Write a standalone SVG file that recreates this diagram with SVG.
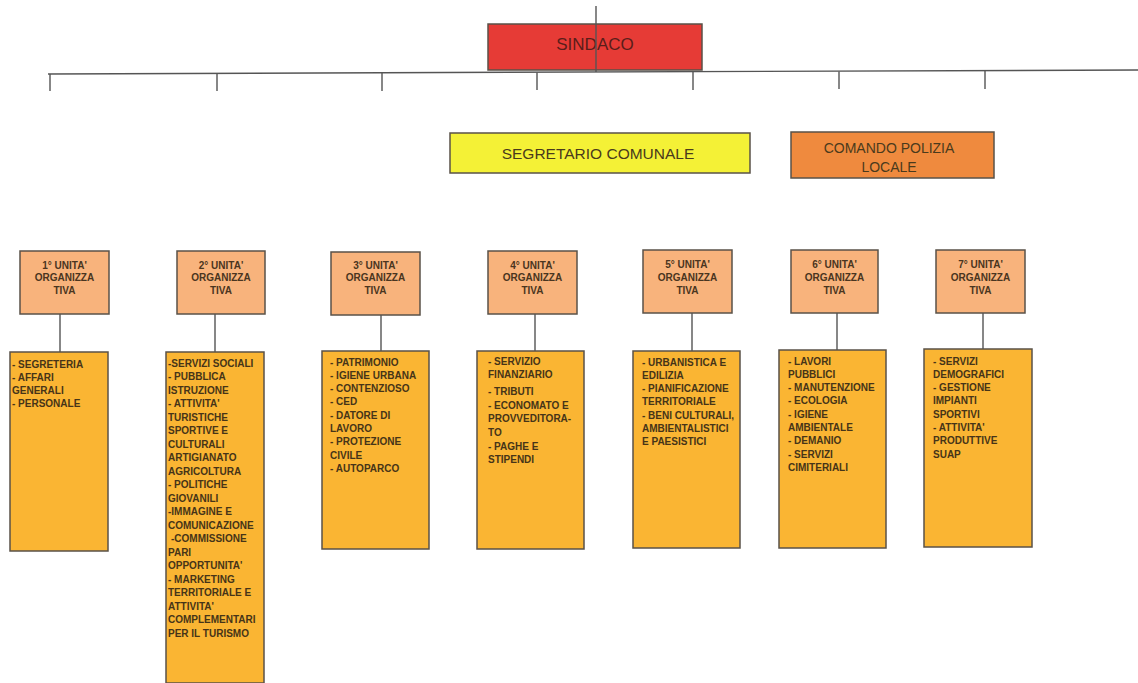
<svg xmlns="http://www.w3.org/2000/svg" width="1138" height="683" viewBox="0 0 1138 683">
<style>
.bx{stroke:#5a5248;stroke-width:1.5}
.sind{fill:#e63b36}
.segr{fill:#f4f136}
.poli{fill:#ef8a3e}
.unit{fill:#f8b37c}
.list{fill:#fab533}
.ln{stroke:#555;stroke-width:1.4;fill:none}
text{font-family:"Liberation Sans",Arial,sans-serif}
.top{font-size:15.5px;fill:#4a3a1c;text-anchor:middle}
.ut{font-size:10px;font-weight:bold;fill:#4a3520;text-anchor:middle}
.lt{font-size:10px;font-weight:bold;fill:#463418}
</style>
<rect width="1138" height="683" fill="#ffffff"/>
<g id="sindaco">
<rect class="bx sind" x="488" y="24" width="214" height="46"/>
<text class="top" x="595" y="50" style="font-size:17px;fill:#5a1e1a">SINDACO</text>
</g>
<g id="segretario">
<rect class="bx segr" x="450" y="133" width="300" height="40"/>
<text class="top" x="598" y="159">SEGRETARIO COMUNALE</text>
</g>
<g id="polizia">
<rect class="bx poli" x="791" y="132" width="203" height="46"/>
<text class="top" x="889" y="153" style="font-size:14px">COMANDO POLIZIA</text>
<text class="top" x="889" y="172" style="font-size:14px">LOCALE</text>
</g>
<g id="u1">
<rect class="bx unit" x="20" y="251" width="89" height="63"/>
<text class="ut" x="64.5" y="268.5">1° UNITA'</text>
<text class="ut" x="64.5" y="281">ORGANIZZA</text>
<text class="ut" x="64.5" y="294">TIVA</text>
</g>
<g id="u2">
<rect class="bx unit" x="177" y="251" width="88" height="63"/>
<text class="ut" x="221" y="268.5">2° UNITA'</text>
<text class="ut" x="221" y="281">ORGANIZZA</text>
<text class="ut" x="221" y="294">TIVA</text>
</g>
<g id="u3">
<rect class="bx unit" x="331" y="252" width="89" height="63"/>
<text class="ut" x="375.5" y="268.5">3° UNITA'</text>
<text class="ut" x="375.5" y="281">ORGANIZZA</text>
<text class="ut" x="375.5" y="294">TIVA</text>
</g>
<g id="u4">
<rect class="bx unit" x="488" y="251" width="89" height="63"/>
<text class="ut" x="532.5" y="268.5">4° UNITA'</text>
<text class="ut" x="532.5" y="281">ORGANIZZA</text>
<text class="ut" x="532.5" y="294">TIVA</text>
</g>
<g id="u5">
<rect class="bx unit" x="643" y="250" width="89" height="63"/>
<text class="ut" x="687.5" y="268">5° UNITA'</text>
<text class="ut" x="687.5" y="280.5">ORGANIZZA</text>
<text class="ut" x="687.5" y="293.5">TIVA</text>
</g>
<g id="u6">
<rect class="bx unit" x="791" y="250" width="87" height="63"/>
<text class="ut" x="834.5" y="268">6° UNITA'</text>
<text class="ut" x="834.5" y="280.5">ORGANIZZA</text>
<text class="ut" x="834.5" y="293.5">TIVA</text>
</g>
<g id="u7">
<rect class="bx unit" x="936" y="250" width="89" height="63"/>
<text class="ut" x="980.5" y="268">7° UNITA'</text>
<text class="ut" x="980.5" y="280.5">ORGANIZZA</text>
<text class="ut" x="980.5" y="293.5">TIVA</text>
</g>
<g id="l1">
<rect class="bx list" x="10" y="352" width="98" height="199"/>
<text class="lt" x="12" y="368">- SEGRETERIA</text>
<text class="lt" x="12" y="381">-  AFFARI</text>
<text class="lt" x="12" y="394">GENERALI</text>
<text class="lt" x="12" y="407">-  PERSONALE</text>
</g>
<g id="l2">
<rect class="bx list" x="166" y="352" width="98" height="331"/>
<text class="lt" x="168" y="366.5">-SERVIZI SOCIALI</text>
<text class="lt" x="168" y="380">- PUBBLICA</text>
<text class="lt" x="168" y="393.5">ISTRUZIONE</text>
<text class="lt" x="168" y="407">- ATTIVITA'</text>
<text class="lt" x="168" y="420.5">TURISTICHE</text>
<text class="lt" x="168" y="434">SPORTIVE E</text>
<text class="lt" x="168" y="447.5">CULTURALI</text>
<text class="lt" x="168" y="461">ARTIGIANATO</text>
<text class="lt" x="168" y="474.5">AGRICOLTURA</text>
<text class="lt" x="168" y="488">- POLITICHE</text>
<text class="lt" x="168" y="501.5">GIOVANILI</text>
<text class="lt" x="168" y="515">-IMMAGINE E</text>
<text class="lt" x="168" y="528.5">COMUNICAZIONE</text>
<text class="lt" x="171" y="542">-COMMISSIONE</text>
<text class="lt" x="168" y="555.5">PARI</text>
<text class="lt" x="168" y="569">OPPORTUNITA'</text>
<text class="lt" x="168" y="582.5">- MARKETING</text>
<text class="lt" x="168" y="596">TERRITORIALE E</text>
<text class="lt" x="168" y="609.5">ATTIVITA'</text>
<text class="lt" x="168" y="623">COMPLEMENTARI</text>
<text class="lt" x="168" y="636.5">PER IL TURISMO</text>
</g>
<g id="l3">
<rect class="bx list" x="322" y="351" width="107" height="198"/>
<text class="lt" x="330" y="365.5">- PATRIMONIO</text>
<text class="lt" x="330" y="378.5">- IGIENE URBANA</text>
<text class="lt" x="330" y="391.5">- CONTENZIOSO</text>
<text class="lt" x="330" y="405">- CED</text>
<text class="lt" x="330" y="418.5">- DATORE DI</text>
<text class="lt" x="330" y="431.5">LAVORO</text>
<text class="lt" x="330" y="445">- PROTEZIONE</text>
<text class="lt" x="330" y="458.5">CIVILE</text>
<text class="lt" x="330" y="471.5">- AUTOPARCO</text>
</g>
<g id="l4">
<rect class="bx list" x="477" y="351" width="107" height="198"/>
<text class="lt" x="488" y="365">- SERVIZIO</text>
<text class="lt" x="488" y="378">FINANZIARIO</text>
<text class="lt" x="488" y="395">-  TRIBUTI</text>
<text class="lt" x="488" y="409">- ECONOMATO E</text>
<text class="lt" x="488" y="422">PROVVEDITORA-</text>
<text class="lt" x="488" y="435.5">TO</text>
<text class="lt" x="488" y="450">- PAGHE E</text>
<text class="lt" x="488" y="463">STIPENDI</text>
</g>
<g id="l5">
<rect class="bx list" x="633" y="351" width="107" height="197"/>
<text class="lt" x="642" y="365.5">- URBANISTICA E</text>
<text class="lt" x="642" y="378.5">EDILIZIA</text>
<text class="lt" x="642" y="391.5">- PIANIFICAZIONE</text>
<text class="lt" x="642" y="405">TERRITORIALE</text>
<text class="lt" x="642" y="418.5">- BENI CULTURALI,</text>
<text class="lt" x="642" y="431.5">AMBIENTALISTICI</text>
<text class="lt" x="642" y="445">E PAESISTICI</text>
</g>
<g id="l6">
<rect class="bx list" x="779" y="350" width="107" height="198"/>
<text class="lt" x="788" y="364.5">- LAVORI</text>
<text class="lt" x="788" y="377.5">PUBBLICI</text>
<text class="lt" x="788" y="390.5">- MANUTENZIONE</text>
<text class="lt" x="788" y="404">- ECOLOGIA</text>
<text class="lt" x="788" y="417.5">- IGIENE</text>
<text class="lt" x="788" y="430.5">AMBIENTALE</text>
<text class="lt" x="788" y="444">- DEMANIO</text>
<text class="lt" x="788" y="457.5">- SERVIZI</text>
<text class="lt" x="788" y="471">CIMITERIALI</text>
</g>
<g id="l7">
<rect class="bx list" x="924" y="349" width="108" height="198"/>
<text class="lt" x="933" y="364.5">- SERVIZI</text>
<text class="lt" x="933" y="377.5">DEMOGRAFICI</text>
<text class="lt" x="933" y="390.5">- GESTIONE</text>
<text class="lt" x="933" y="404">IMPIANTI</text>
<text class="lt" x="933" y="417.5">SPORTIVI</text>
<text class="lt" x="933" y="430.5">- ATTIVITA'</text>
<text class="lt" x="933" y="444">PRODUTTIVE</text>
<text class="lt" x="933" y="457.5">SUAP</text>
</g>
<g id="connectors">
<path class="ln" d="M596 6V72"/>
<path class="ln" d="M48 74L1138 70"/>
<path class="ln" d="M50 74V91M217 73.5V91M382 73V91M537 72.5V90M693 72V90M839 71.5V89M985 71V89"/>
<path class="ln" d="M60 314V352M215 314V352M381 315V351M535 314V351M692 313V351M837 313V350M983 313V349"/>
</g>
</svg>
